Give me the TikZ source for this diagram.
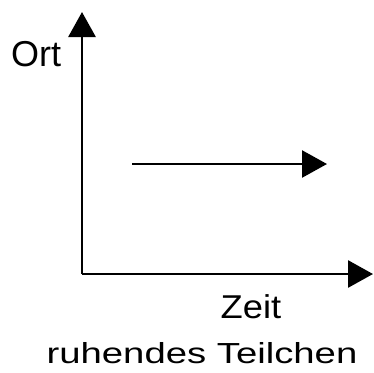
\documentclass[tikz,border=0pt]{standalone}
\usepackage{fontspec}
\setmainfont{Liberation Sans}
\usetikzlibrary{arrows.meta}
\begin{document}
\begin{tikzpicture}[x=1pt,y=-1pt,
  axis/.style={line width=2.8pt,-{Triangle[length=25pt,width=27pt]}},
  lbl/.style={inner sep=0pt,anchor=base}]
\useasboundingbox (0,0) rectangle (374,372);
\coordinate (O) at (82,274);
\coordinate (ytop) at (82,12);
\coordinate (xend) at (373,274);
\coordinate (a) at (132,164);
\coordinate (b) at (327,164);
\draw[axis] (O) -- (ytop);
\draw[axis] (O) -- (xend);
\draw[axis,line width=2.5pt] (a) -- (b);
\node[lbl,font=\fontsize{36}{40}\selectfont] (ort) at (36,66) {Ort};
\node[lbl,font=\fontsize{33}{38}\selectfont,xscale=1.1] (zeit) at (251,318) {Zeit};
\node[lbl,font=\fontsize{29}{34}\selectfont,xscale=1.32] (cap) at (202,363) {ruhendes Teilchen};
\end{tikzpicture}
\end{document}
